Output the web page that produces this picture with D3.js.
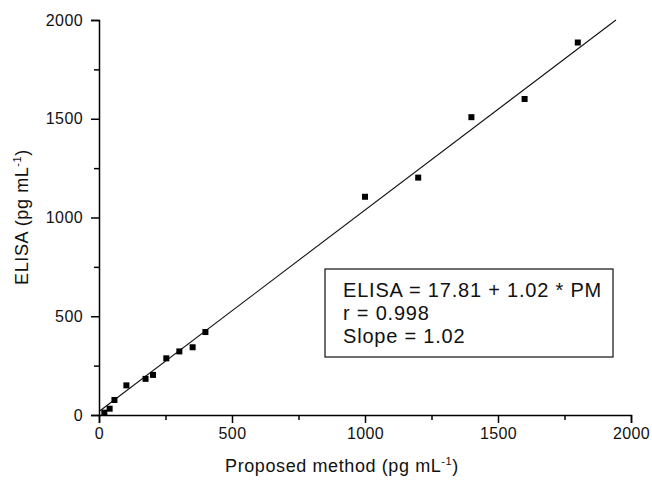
<!DOCTYPE html>
<html>
<head>
<meta charset="utf-8">
<script src="https://cdn.jsdelivr.net/npm/d3@7"></script>
<style>
  html, body { margin: 0; padding: 0; background: #fff; }
  svg { display: block; font-family: "Liberation Sans", Arial, sans-serif; }
</style>
</head>
<body>
<svg id="chart" width="652" height="481"></svg>
<script>
// Data
const proposed = [20, 40, 58, 103, 175, 203, 253, 302, 352, 400, 1000, 1200, 1400, 1600, 1800];
const elisa    = [12, 32, 76, 150, 183, 203, 287, 322, 343, 420, 1105, 1202, 1508, 1600, 1886];
const intercept = 17.81;
const slope = 1.02;
const xTicks = [0, 500, 1000, 1500, 2000];
const yTicks = [0, 500, 1000, 1500, 2000];
const xMinorTicks = [250, 750, 1250, 1750];
const yMinorTicks = [250, 750, 1250, 1750];
const legendLines = ["ELISA = 17.81 + 1.02 * PM", "r = 0.998", "Slope = 1.02"];

const svg = d3.select("#chart");
const x = d3.scaleLinear().domain([0, 2000]).range([99, 631]);
const y = d3.scaleLinear().domain([0, 2000]).range([415, 20]);

// Regression line
const xEnd = (2000 - intercept) / slope;
svg.append("line")
  .attr("x1", x(0)).attr("y1", y(intercept))
  .attr("x2", x(xEnd)).attr("y2", y(intercept + slope * xEnd))
  .attr("stroke", "#111").attr("stroke-width", 1.1);

// Points
const pts = proposed.map((p, i) => ({ p, e: elisa[i] }));
svg.append("g").selectAll("rect").data(pts).join("rect")
  .attr("x", d => x(d.p) - 3).attr("y", d => y(d.e) - 3)
  .attr("width", 6).attr("height", 6).attr("fill", "#000");

// Axes
const xAxis = svg.append("g").attr("transform", `translate(0,${y(0)})`)
  .call(d3.axisBottom(x).tickValues(xTicks).tickFormat(d3.format("d")).tickSize(8).tickPadding(5));
const xMinor = svg.append("g").attr("transform", `translate(0,${y(0)})`)
  .call(d3.axisBottom(x).tickValues(xMinorTicks).tickFormat("").tickSize(5));
const yAxis = svg.append("g").attr("transform", `translate(${x(0)},0)`)
  .call(d3.axisLeft(y).tickValues(yTicks).tickFormat(d3.format("d")).tickSize(8).tickPadding(8));
const yMinor = svg.append("g").attr("transform", `translate(${x(0)},0)`)
  .call(d3.axisLeft(y).tickValues(yMinorTicks).tickFormat("").tickSize(5));

[xAxis, xMinor, yAxis, yMinor].forEach(g => {
  g.select(".domain").attr("stroke", "#000").attr("stroke-width", 1.5);
  g.selectAll(".tick line").attr("stroke", "#000").attr("stroke-width", 1.5);
  g.selectAll(".tick text").attr("fill", "#111").style("font-size", "16px")
    .style("letter-spacing", "0.4px")
    .style("font-family", "'Liberation Sans', Arial, sans-serif");
});
xMinor.select(".domain").remove();
yMinor.select(".domain").remove();

// Axis titles
const xt = svg.append("text").attr("x", 342).attr("y", 472).attr("text-anchor", "middle")
  .style("font-size", "18px").style("letter-spacing", "0.6px").attr("fill", "#111");
xt.append("tspan").text("Proposed method (pg mL");
xt.append("tspan").attr("dy", -7).style("font-size", "11px").text("-1");
xt.append("tspan").attr("dy", 7).text(")");

const yt = svg.append("text").attr("transform", `translate(28,217) rotate(-90)`)
  .attr("text-anchor", "middle").style("font-size", "18px").style("letter-spacing", "0.6px").attr("fill", "#111");
yt.append("tspan").text("ELISA (pg mL");
yt.append("tspan").attr("dy", -7).style("font-size", "11px").text("-1");
yt.append("tspan").attr("dy", 7).text(")");

// Legend box
svg.append("rect").attr("x", 325).attr("y", 269).attr("width", 288).attr("height", 88)
  .attr("fill", "#fff").attr("stroke", "#222").attr("stroke-width", 1.3);
svg.append("g").selectAll("text").data(legendLines).join("text")
  .attr("x", 343).attr("y", (d, i) => 297 + i * 23)
  .style("font-size", "20px").style("letter-spacing", "0.8px").attr("fill", "#111").text(d => d);
</script>
</body>
</html>
